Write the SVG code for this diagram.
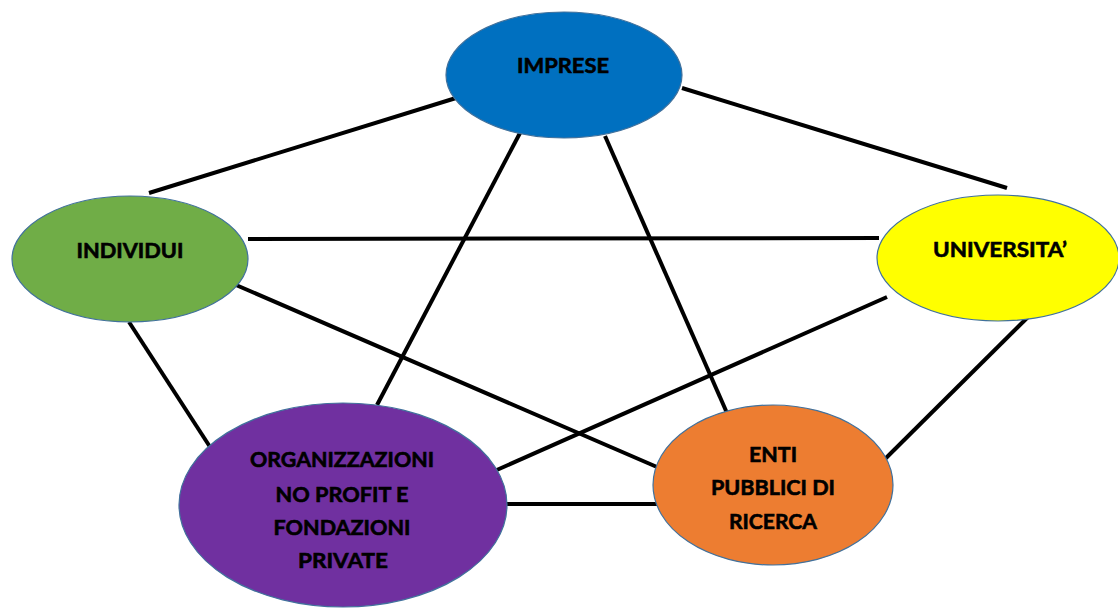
<svg xmlns="http://www.w3.org/2000/svg" width="1118" height="610" viewBox="0 0 1118 610">
<style>
.node{stroke:#41719C;stroke-width:1.2}
.lbl{font-family:Lato,"Open Sans","Liberation Sans",sans-serif;font-weight:bold;font-size:21px;fill:#000;stroke:#000;stroke-width:0.6;text-anchor:middle}
.edge{stroke:#000;stroke-width:4;fill:none}
</style>
<rect width="1118" height="610" fill="#fff"/>
<g id="connectors">
<line class="edge" x1="456" y1="98" x2="149" y2="193"/>
<line class="edge" x1="682" y1="88" x2="1007" y2="188"/>
<line class="edge" x1="248" y1="239" x2="879" y2="238"/>
<line class="edge" x1="520" y1="133" x2="377" y2="405"/>
<line class="edge" x1="605" y1="136" x2="727" y2="413"/>
<line class="edge" x1="236" y1="285" x2="657" y2="467"/>
<line class="edge" x1="129" y1="322" x2="212" y2="450"/>
<line class="edge" x1="887" y1="297" x2="490" y2="473"/>
<line class="edge" x1="1028" y1="317" x2="884" y2="460"/>
<line class="edge" x1="497" y1="504" x2="657" y2="504"/>
</g>
<g id="imprese">
<ellipse class="node" cx="564" cy="75" rx="118" ry="63" fill="#0070C0"/>
<text class="lbl" x="563" y="73" textLength="92" lengthAdjust="spacingAndGlyphs">IMPRESE</text>
</g>
<g id="individui">
<ellipse class="node" cx="130" cy="259" rx="118" ry="63" fill="#70AD47"/>
<text class="lbl" x="130" y="258" textLength="107" lengthAdjust="spacingAndGlyphs">INDIVIDUI</text>
</g>
<g id="universita">
<ellipse class="node" cx="998" cy="258" rx="121" ry="63" fill="#FFFF00"/>
<text class="lbl" x="1000" y="257" textLength="134" lengthAdjust="spacingAndGlyphs">UNIVERSITA’</text>
</g>
<g id="organizzazioni">
<ellipse class="node" cx="343" cy="505" rx="164" ry="102" fill="#7030A0"/>
<text class="lbl" x="342" y="467" textLength="184" lengthAdjust="spacingAndGlyphs">ORGANIZZAZIONI</text>
<text class="lbl" x="342" y="502" textLength="133" lengthAdjust="spacingAndGlyphs">NO PROFIT E</text>
<text class="lbl" x="342" y="535" textLength="137" lengthAdjust="spacingAndGlyphs">FONDAZIONI</text>
<text class="lbl" x="343" y="568" textLength="90" lengthAdjust="spacingAndGlyphs">PRIVATE</text>
</g>
<g id="enti">
<ellipse class="node" cx="773" cy="485" rx="120" ry="80" fill="#ED7D31"/>
<text class="lbl" x="773" y="462" textLength="48" lengthAdjust="spacingAndGlyphs">ENTI</text>
<text class="lbl" x="773" y="495" textLength="124" lengthAdjust="spacingAndGlyphs">PUBBLICI DI</text>
<text class="lbl" x="773" y="529" textLength="88" lengthAdjust="spacingAndGlyphs">RICERCA</text>
</g>
</svg>
